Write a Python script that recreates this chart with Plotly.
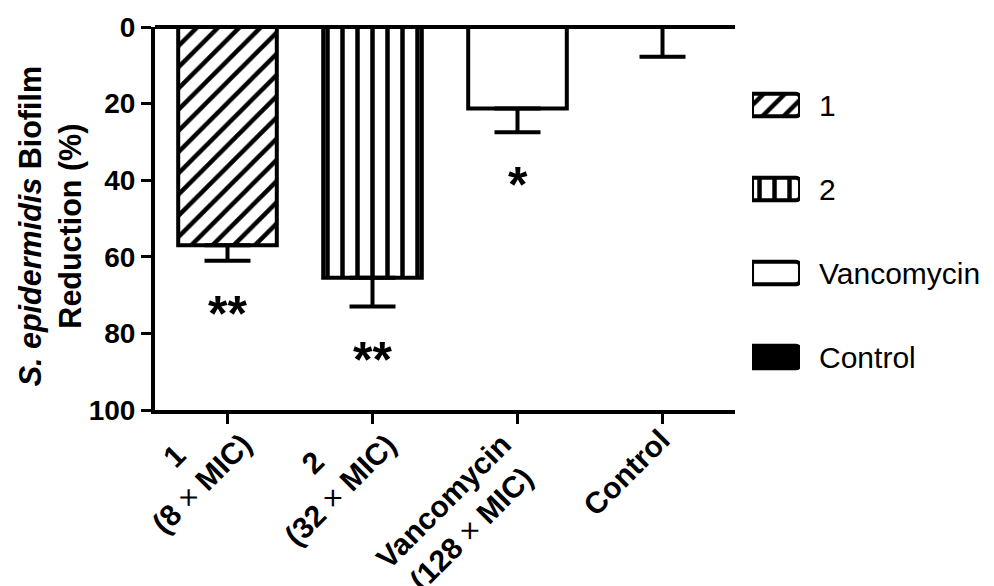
import plotly.graph_objects as go

categories = ["1", "2", "Vancomycin", "Control"]
tick_labels = [
    "<b>1</b><br><b>(8 </b>×<b> MIC)</b>",
    "<b>2</b><br><b>(32 </b>×<b> MIC)</b>",
    "<b>Vancomycin</b><br><b>(128 </b>×<b> MIC)</b>",
    "<b>Control</b>",
]
reduction = [57.0, 65.5, 21.3, 0.0]
sem = [4.0, 7.5, 6.2, 7.8]
significance = ["**", "**", "*", ""]

patterns = ["/", "|", "", ""]
fills = ["white", "white", "white", "black"]

# label placement (pixels)
label_xshift = [33, 33, 30, 16]
label_yshift = [13, 13, -15, -10]

FONT = "Liberation Sans, Arial, sans-serif"

def marker(i, radius=0):
    return dict(color=fills[i], line=dict(color="black", width=4), cornerradius=radius,
                pattern=dict(shape=patterns[i], fgcolor="black", bgcolor="white",
                             fgopacity=1, size=15, solidity=0.3, fillmode="replace"))

fig = go.Figure()
for i, cat in enumerate(categories):
    fig.add_trace(go.Bar(
        x=[i], y=[reduction[i]], width=0.68, name=cat, showlegend=False,
        marker=marker(i),
        error_y=dict(type="data", symmetric=False, array=[sem[i]], arrayminus=[0],
                     color="black", thickness=4, width=23),
        xaxis="x", yaxis="y",
    ))
    # legend swatch
    fig.add_trace(go.Bar(
        y=[cat], x=[1], orientation="h", width=0.27, showlegend=False,
        marker=marker(i, 4), xaxis="x2", yaxis="y2", hoverinfo="skip",
    ))

for i, s in enumerate(significance):
    if s:
        fig.add_annotation(x=i, y=reduction[i] + sem[i], xref="x", yref="y", text=s,
                           yanchor="middle", yshift=-53, showarrow=False,
                           font=dict(family=FONT, size=50, color="black", weight="bold"))

for i, lab in enumerate(tick_labels):
    fig.add_annotation(x=i, y=0, xref="x", yref="paper", text=lab, textangle=-45,
                       xanchor="right", yanchor="top",
                       xshift=label_xshift[i], yshift=label_yshift[i],
                       align="center", showarrow=False,
                       font=dict(family=FONT, size=30, color="black"))

fig.add_annotation(x=-0.125, y=0.48, xref="paper", yref="paper",
                   text="<b><i>S. epidermidis</i> Biofilm</b><br><b>Reduction (%)</b>",
                   textangle=-90, xanchor="center", yanchor="middle", showarrow=False,
                   align="center", font=dict(family=FONT, size=30.5, color="black"))

fig.update_layout(
    width=994, height=586,
    margin=dict(l=155, r=0, t=27, b=176, autoexpand=False),
    paper_bgcolor="white", plot_bgcolor="white",
    barmode="overlay", showlegend=False,
    font=dict(family=FONT, color="black"),
    xaxis=dict(domain=[0, 0.6913], range=[-0.5, 3.5], tickmode="array",
               tickvals=list(range(len(categories))), ticktext=[""] * len(categories),
               showline=True, linewidth=4, linecolor="black", automargin=False,
               ticks="outside", ticklen=10, tickwidth=3, tickcolor="black",
               showgrid=False, zeroline=False, anchor="y"),
    yaxis=dict(range=[100, 0], tickvals=[0, 20, 40, 60, 80, 100], automargin=False,
               tickfont=dict(size=28, family=FONT, weight="bold"),
               showline=True, linewidth=4, linecolor="black",
               ticks="outside", ticklen=10, tickwidth=3, tickcolor="black",
               showgrid=False, zeroline=True, zerolinewidth=4, zerolinecolor="black",
               anchor="x"),
    xaxis2=dict(domain=[0.7116, 0.7688], range=[0, 1], visible=False, anchor="y2"),
    yaxis2=dict(domain=[0.0287, 0.906], range=[3.5, -0.5], type="category",
                categoryorder="array", categoryarray=categories, automargin=False,
                side="right", anchor="x2", showline=False, showgrid=False, zeroline=False,
                ticks="", ticklabelstandoff=18,
                tickfont=dict(size=30, family=FONT, color="black")),
)

fig.write_html("out.html")
